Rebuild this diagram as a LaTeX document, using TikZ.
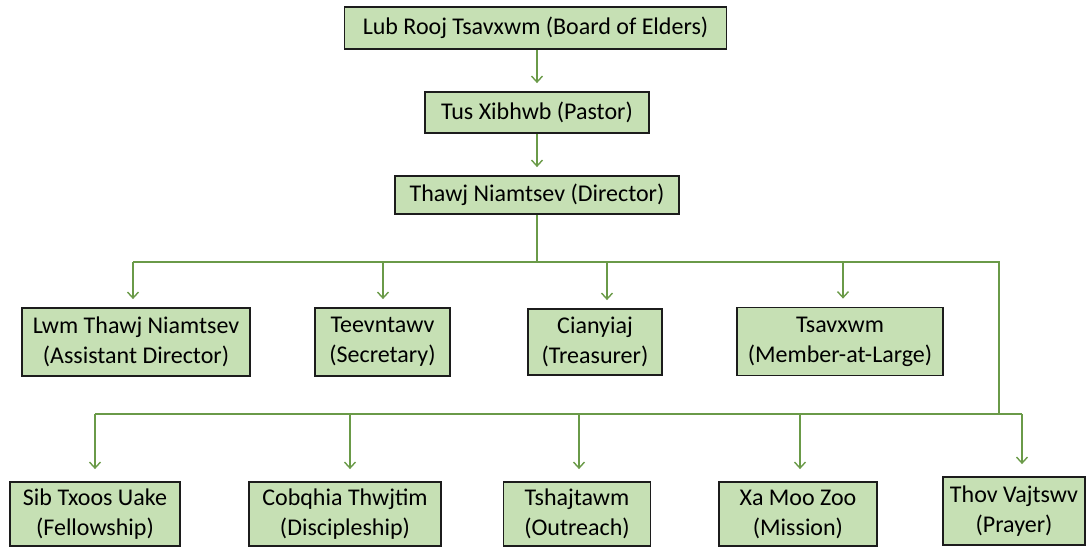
\documentclass[tikz,border=0pt]{standalone}
\usepackage{fontspec}
\setmainfont{Carlito}
\usetikzlibrary{arrows.meta}
\definecolor{boxfill}{HTML}{C6E0B4}
\definecolor{linegreen}{HTML}{6A9A48}
\definecolor{boxline}{HTML}{1C1C1C}
\begin{document}
\begin{tikzpicture}[x=1pt,y=-1pt,
  box/.style={draw=boxline, line width=1.8pt, fill=boxfill, inner sep=0pt, align=center,
    font=\fontsize{24}{30}\selectfont},
  conn/.style={draw=linegreen, line width=1.4pt},
  arr/.style={conn, -{Straight Barb[length=6pt,width=11pt,line width=1.4pt]}, shorten >=8pt}]
\useasboundingbox (0,0) rectangle (1091,548);
% top chain
\node[box, minimum width=382pt, minimum height=42pt] (b1) at (535.5,28) {Lub Rooj Tsavxwm (Board of Elders)};
\node[box, minimum width=224pt, minimum height=41pt] (b2) at (537,112.5) {Tus Xibhwb (Pastor)};
\node[box, minimum width=284pt, minimum height=38pt] (b3) at (537,195) {Thawj Niamtsev (Director)};
% row 2
\node[box, minimum width=228pt, minimum height=68pt] (r1) at (136,342) {Lwm Thawj Niamtsev\\(Assistant Director)};
\node[box, minimum width=135pt, minimum height=68pt] (r2) at (382.5,342) {Teevntawv\\(Secretary)};
\node[box, minimum width=134pt, minimum height=66pt] (r3) at (595,342) {Cianyiaj\\(Treasurer)};
\node[box, minimum width=206pt, minimum height=68pt] (r4) at (840,341.5) {Tsavxwm\\(Member-at-Large)};
% row 3
\node[box, minimum width=170pt, minimum height=64pt] (s1) at (95,514) {Sib Txoos Uake\\(Fellowship)};
\node[box, minimum width=192pt, minimum height=64pt] (s2) at (345,514) {Cobqhia Thwjtim\\(Discipleship)};
\node[box, minimum width=147pt, minimum height=64pt] (s3) at (577,514) {Tshajtawm\\(Outreach)};
\node[box, minimum width=158pt, minimum height=64pt] (s4) at (798,514) {Xa Moo Zoo\\(Mission)};
\node[box, minimum width=142pt, minimum height=68pt] (s5) at (1014,511) {Thov Vajtswv\\(Prayer)};
% bus coordinates
\coordinate (busA) at (537,262);
\coordinate (a1) at (133,262);
\coordinate (a2) at (383,262);
\coordinate (a3) at (607,262);
\coordinate (a4) at (843,262);
\coordinate (busR) at (999,262);
\coordinate (busB) at (999,414);
\coordinate (c1) at (95,414);
\coordinate (c2) at (350,414);
\coordinate (c3) at (579,414);
\coordinate (c4) at (800,414);
\coordinate (c5) at (1022,414);
% connectors
\draw[arr] (b2.north |- b1.south) -- (b2.north);
\draw[arr] (b3.north |- b2.south) -- (b3.north);
\draw[conn] (b3.south) -- (busA);
\draw[conn] (a1) -- (busR) -- (busB);
\draw[conn] (c1) -- (c5);
\draw[arr] (a1) -- (a1 |- r1.north);
\draw[arr] (a2) -- (a2 |- r2.north);
\draw[arr] (a3) -- (a3 |- r3.north);
\draw[arr] (a4) -- (a4 |- r4.north);
\draw[arr, shorten >=12pt] (c1) -- (c1 |- s1.north);
\draw[arr, shorten >=12pt] (c2) -- (c2 |- s2.north);
\draw[arr, shorten >=12pt] (c3) -- (c3 |- s3.north);
\draw[arr, shorten >=12pt] (c4) -- (c4 |- s4.north);
\draw[arr, shorten >=12pt] (c5) -- (c5 |- s5.north);
\end{tikzpicture}
\end{document}
